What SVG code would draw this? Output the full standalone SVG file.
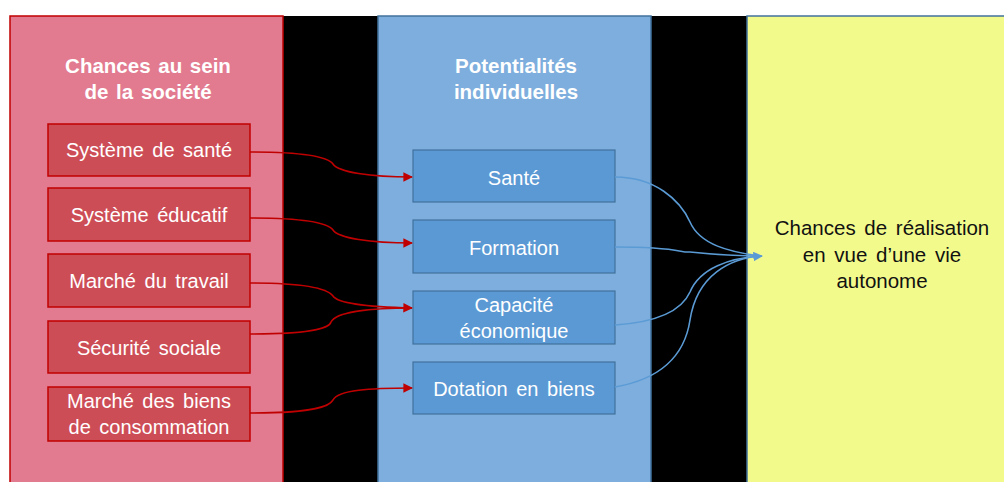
<svg xmlns="http://www.w3.org/2000/svg" width="1004" height="482" viewBox="0 0 1004 482">
<style>
.panel-r{fill:#e27b90;stroke:#c00000;stroke-width:1.5}
.panel-b{fill:#7eaedd;stroke:#41719c;stroke-width:1.5}
.panel-y{fill:#f3fa8c;stroke:#41719c;stroke-width:1.5}
.rbox{fill:#cd4d56;stroke:#c00000;stroke-width:1.5}
.bbox{fill:#5b99d4;stroke:#41719c;stroke-width:1.2}
.title{font-family:"Liberation Sans",Arial,sans-serif;font-size:20.5px;font-weight:bold;fill:#fff;text-anchor:middle;word-spacing:2px}
.lbl{font-family:"Liberation Sans",Arial,sans-serif;font-size:20px;fill:#fff;text-anchor:middle;word-spacing:3px}
.dlbl{font-family:"Liberation Sans",Arial,sans-serif;font-size:20.5px;fill:#111;text-anchor:middle;word-spacing:3px}
.rc{fill:none;stroke:#c00000;stroke-width:1.6}
.bc{fill:none;stroke:#5b9bd5;stroke-width:1.6}
</style>
<defs>
<marker id="ar" viewBox="0 0 10 10" refX="9" refY="5" markerWidth="6" markerHeight="6" orient="auto" markerUnits="strokeWidth"><path d="M0,0 L10,5 L0,10 Z" fill="#c00000"/></marker>
<marker id="ab" viewBox="0 0 10 10" refX="9" refY="5" markerWidth="6" markerHeight="6" orient="auto" markerUnits="strokeWidth"><path d="M0,0 L10,5 L0,10 Z" fill="#5b9bd5"/></marker>
</defs>
<rect x="0" y="0" width="1004" height="482" fill="#fff"/>
<rect x="283" y="16" width="465" height="466" fill="#000"/>
<g id="panel-societe">
<rect class="panel-r" x="10" y="16" width="273" height="470"/>
<text class="title" x="148" y="73">Chances au sein</text>
<text class="title" x="148" y="99">de la société</text>
</g>
<g id="panel-potentialites">
<rect class="panel-b" x="378" y="16" width="273" height="470"/>
<text class="title" x="516" y="73">Potentialités</text>
<text class="title" x="516" y="99">individuelles</text>
</g>
<g id="panel-chances">
<rect class="panel-y" x="747" y="16" width="262" height="470"/>
<text class="dlbl" x="882" y="235">Chances de réalisation</text>
<text class="dlbl" x="882" y="262">en vue d’une vie</text>
<text class="dlbl" x="882" y="288">autonome</text>
</g>
<g id="n-sante-sys"><rect class="rbox" x="48" y="124" width="202" height="52"/><text class="lbl" x="149" y="157">Système de santé</text></g>
<g id="n-educ-sys"><rect class="rbox" x="48" y="188" width="202" height="53"/><text class="lbl" x="149" y="222">Système éducatif</text></g>
<g id="n-travail"><rect class="rbox" x="48" y="254" width="202" height="53"/><text class="lbl" x="149" y="288">Marché du travail</text></g>
<g id="n-securite"><rect class="rbox" x="48" y="321" width="202" height="52"/><text class="lbl" x="149" y="355">Sécurité sociale</text></g>
<g id="n-biens"><rect class="rbox" x="48" y="387" width="202" height="54"/><text class="lbl" x="149" y="408">Marché des biens</text><text class="lbl" x="149" y="434">de consommation</text></g>
<g id="n-sante"><rect class="bbox" x="413" y="150" width="202" height="52"/><text class="lbl" x="514" y="185">Santé</text></g>
<g id="n-formation"><rect class="bbox" x="413" y="220" width="202" height="53"/><text class="lbl" x="514" y="255">Formation</text></g>
<g id="n-capacite"><rect class="bbox" x="413" y="291" width="202" height="53"/><text class="lbl" x="514" y="312">Capacité</text><text class="lbl" x="514" y="338">économique</text></g>
<g id="n-dotation"><rect class="bbox" x="413" y="362" width="202" height="52"/><text class="lbl" x="514" y="396">Dotation en biens</text></g>
<g id="connectors">
<path class="rc" marker-end="url(#ar)" d="M250,152 C320,152 330,160 333,164 C338,172 370,177 412,177"/>
<path class="rc" marker-end="url(#ar)" d="M250,218 C320,218 330,226 333,230 C338,238 370,243 412,243"/>
<path class="rc" marker-end="url(#ar)" d="M250,283 C320,283 330,292 333,296 C338,304 370,307 412,308"/>
<path class="rc" d="M250,334 C320,334 330,326 331,322 C336,312 370,308 412,308"/>
<path class="rc" marker-end="url(#ar)" d="M250,413 C320,413 330,405 333,400 C338,390 370,388 412,388"/>
<path class="bc" d="M615,177 C655,177 680,200 690,222 C700,245 730,252 760,256"/>
<path class="bc" d="M615,247 C680,247 680,253 690,252 C710,254 740,256 760,256"/>
<path class="bc" d="M615,325 C660,322 682,310 690,292 C700,268 730,258 760,256"/>
<path class="bc" marker-end="url(#ab)" d="M615,387 C655,380 684,360 690,320 C697,275 730,258 762,256"/>
</g>
</svg>
